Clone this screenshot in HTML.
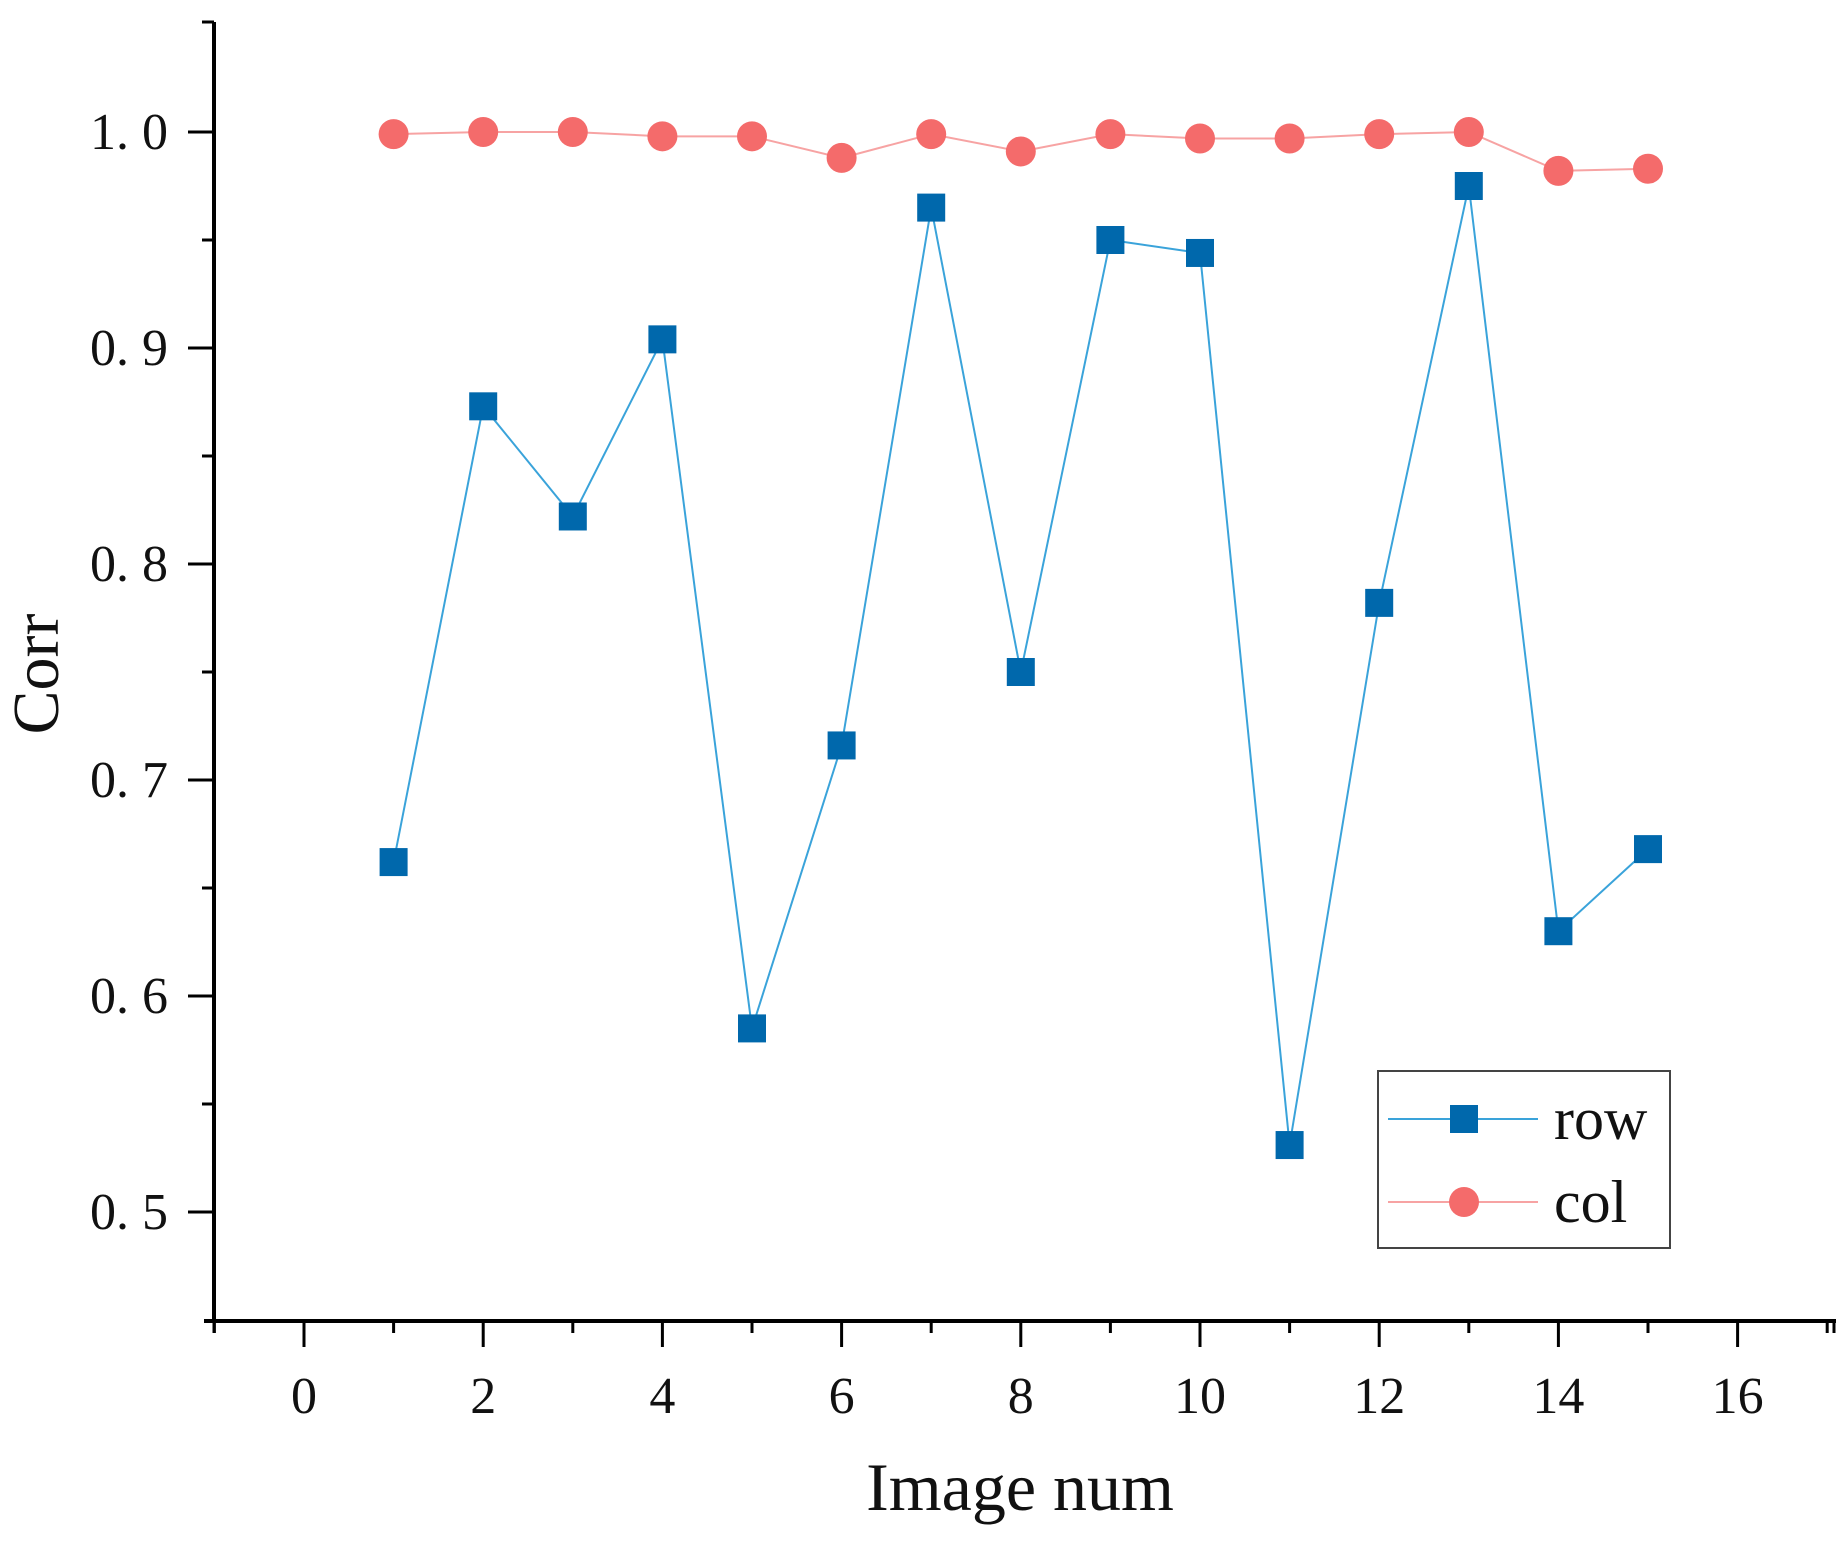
<!DOCTYPE html>
<html><head><meta charset="utf-8"><style>
html,body{margin:0;padding:0;background:#fff;}
svg{display:block;}
text{font-family:"Liberation Serif","Noto Serif CJK SC",serif;fill:#111;}
</style></head><body>
<svg id="chart" width="1843" height="1542" viewBox="0 0 1843 1542" xmlns="http://www.w3.org/2000/svg"></svg>
<script>
const xCats = [1,2,3,4,5,6,7,8,9,10,11,12,13,14,15];
const rowVals = [0.662,0.873,0.822,0.904,0.585,0.716,0.965,0.750,0.950,0.944,0.531,0.782,0.975,0.630,0.668];
const colVals = [0.999,1.000,1.000,0.998,0.998,0.988,0.999,0.991,0.999,0.997,0.997,0.999,1.000,0.982,0.983];
const xTicks = [0,2,4,6,8,10,12,14,16];
const yTicks = [0.5,0.6,0.7,0.8,0.9,1.0];
const yTickLabels = ["0. 5","0. 6","0. 7","0. 8","0. 9","1. 0"];

const NS="http://www.w3.org/2000/svg";
const svg=document.getElementById('chart');
function X(v){return 304+(v-0)*89.6;}
function Y(v){return 132+(1.0-v)*2160;}
function mk(tag,attrs,parent){const e=document.createElementNS(NS,tag);for(const k in attrs)e.setAttribute(k,attrs[k]);(parent||svg).appendChild(e);return e;}

const yAxis=mk('line',{x1:214,y1:22,x2:214,y2:1323,stroke:'#000','stroke-width':4});


const xAxis=mk('line',{x1:204,y1:1321,x2:1836,y2:1321,stroke:'#000','stroke-width':4});


mk('line',{x1:202,y1:22,x2:214,y2:22,stroke:'#000','stroke-width':3});
mk('line',{x1:214,y1:1321,x2:214,y2:1333,stroke:'#000','stroke-width':3});
mk('line',{x1:1834,y1:1321,x2:1834,y2:1333,stroke:'#000','stroke-width':3});

for(let v=0.55;v<1.05;v+=0.1){mk('line',{x1:202,y1:Y(v),x2:214,y2:Y(v),stroke:'#000','stroke-width':3});}
yTicks.forEach((v,i)=>{
  mk('line',{x1:188,y1:Y(v),x2:214,y2:Y(v),stroke:'#000','stroke-width':3});
  const t=mk('text',{x:168,y:Y(v)+17,'text-anchor':'end','font-size':52});
  t.textContent=yTickLabels[i];
  
  
});
for(let v=-1;v<=17;v+=2){mk('line',{x1:X(v),y1:1321,x2:X(v),y2:1333,stroke:'#000','stroke-width':3});}
xTicks.forEach(v=>{
  mk('line',{x1:X(v),y1:1321,x2:X(v),y2:1347,stroke:'#000','stroke-width':3});
  const t=mk('text',{x:X(v),y:1413,'text-anchor':'middle','font-size':52});
  t.textContent=v;
  
  
});
const xt=mk('text',{x:1020,y:1510,'text-anchor':'middle','font-size':68});
xt.textContent='Image num';


const yt=mk('text',{x:0,y:0,'text-anchor':'middle','font-size':66,transform:'translate(58,674) rotate(-90)'});
yt.textContent='Corr';



const colPts=xCats.map((c,i)=>X(c)+','+Y(colVals[i])).join(' ');
const colLine=mk('polyline',{points:colPts,fill:'none',stroke:'#f7a3a3','stroke-width':2});


xCats.forEach((c,i)=>{
  const m=mk('circle',{cx:X(c),cy:Y(colVals[i]),r:15,fill:'#f46b6b'});
  
  
});
const rowPts=xCats.map((c,i)=>X(c)+','+Y(rowVals[i])).join(' ');
const rowLine=mk('polyline',{points:rowPts,fill:'none',stroke:'#3aa3da','stroke-width':2});


xCats.forEach((c,i)=>{
  const m=mk('rect',{x:X(c)-14,y:Y(rowVals[i])-14,width:28,height:28,fill:'#0068ac'});
  
  
});

const lg=mk('g',{transform:'translate(-8,-6)'});


mk('rect',{x:1386,y:1077,width:292,height:177,fill:'#fff',stroke:'#444','stroke-width':2},lg);
const le1=mk('g',{},lg);


mk('line',{x1:1396,y1:1125,x2:1546,y2:1125,stroke:'#3aa3da','stroke-width':2},le1);
mk('rect',{x:1458,y:1111,width:28,height:28,fill:'#0068ac'},le1);
const t1=mk('text',{x:1562,y:1145,'font-size':60},le1);t1.textContent='row';
const le2=mk('g',{},lg);


mk('line',{x1:1396,y1:1208,x2:1546,y2:1208,stroke:'#f7a3a3','stroke-width':2},le2);
mk('circle',{cx:1472,cy:1208,r:15,fill:'#f46b6b'},le2);
const t2=mk('text',{x:1562,y:1228,'font-size':60},le2);t2.textContent='col';
</script>
</body></html>
